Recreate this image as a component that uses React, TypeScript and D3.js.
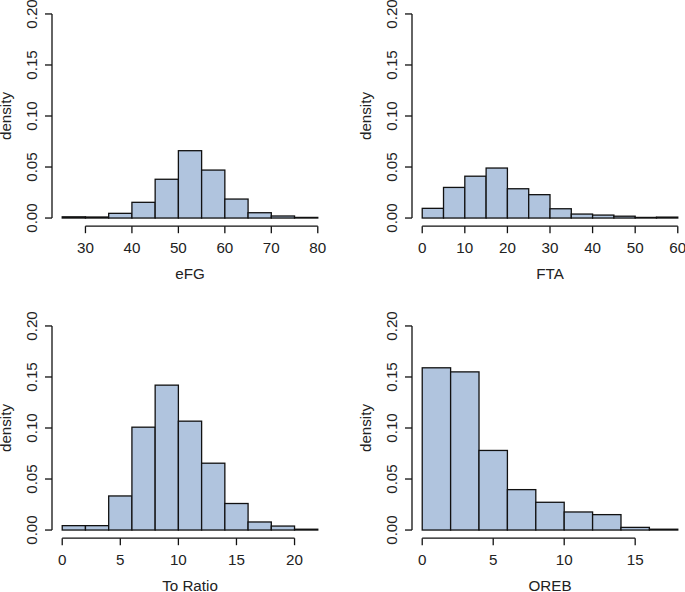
import * as d3 from "d3";

// bin edges and densities
const efgBreaks = [25, 30, 35, 40, 45, 50, 55, 60, 65, 70, 75, 80];
const efgDensity = [0.0012, 0.001, 0.0046, 0.0154, 0.038, 0.066, 0.047, 0.0186, 0.0052, 0.002, 0.0006];
const efgTicks = [30, 40, 50, 60, 70, 80];

const ftaBreaks = [0, 5, 10, 15, 20, 25, 30, 35, 40, 45, 50, 55, 60];
const ftaDensity = [0.0095, 0.030, 0.041, 0.049, 0.0287, 0.0229, 0.0091, 0.0039, 0.0029, 0.0018, 0.0006, 0.0009];
const ftaTicks = [0, 10, 20, 30, 40, 50, 60];

const toBreaks = [0, 2, 4, 6, 8, 10, 12, 14, 16, 18, 20, 22];
const toDensity = [0.0043, 0.0043, 0.0334, 0.1008, 0.142, 0.1067, 0.0655, 0.026, 0.0079, 0.0039, 0.0008];
const toTicks = [0, 5, 10, 15, 20];

const orebBreaks = [0, 2, 4, 6, 8, 10, 12, 14, 16, 18];
const orebDensity = [0.159, 0.155, 0.078, 0.0396, 0.0272, 0.0177, 0.0151, 0.0026, 0.0008];
const orebTicks = [0, 5, 10, 15];

const yTicks = [0, 0.05, 0.1, 0.15, 0.2];

const W = 685;
const H = 592;
const plotW = 276;
const plotH = 220.4;
const font = "Liberation Sans, Arial, sans-serif";
const fs = 15.2;

function Hist({ ox, oy, breaks, density, ticks, label }) {
  const lo = breaks[0];
  const hi = breaks[breaks.length - 1];
  const pad = (hi - lo) * 0.04;
  const x = d3.scaleLinear().domain([lo - pad, hi + pad]).range([0, plotW]);
  const y = d3.scaleLinear().domain([-0.008, 0.208]).range([plotH, 0]);
  const left = ox + 52;
  const top = oy + 5.8;
  return (
    <g transform={`translate(${left},${top})`}>
      {density.map((d, i) => (
        <rect
          key={i}
          x={x(breaks[i])}
          y={y(d)}
          width={x(breaks[i + 1]) - x(breaks[i])}
          height={y(0) - y(d)}
          fill="#B0C4DE"
          stroke="#111"
          strokeWidth={1.3}
        />
      ))}
      {/* x axis */}
      <line x1={x(ticks[0])} x2={x(ticks[ticks.length - 1])} y1={plotH} y2={plotH} stroke="#111" strokeWidth={1.3} />
      {ticks.map((t) => (
        <g key={t}>
          <line x1={x(t)} x2={x(t)} y1={plotH} y2={plotH + 7} stroke="#111" strokeWidth={1.3} />
          <text x={x(t)} y={plotH + 27} textAnchor="middle" fontSize={fs} fontFamily={font} fill="#222">
            {t}
          </text>
        </g>
      ))}
      {/* y axis */}
      <line x1={0} x2={0} y1={y(0)} y2={y(0.2)} stroke="#111" strokeWidth={1.3} />
      {yTicks.map((t) => (
        <g key={t}>
          <line x1={-7} x2={0} y1={y(t)} y2={y(t)} stroke="#111" strokeWidth={1.3} />
          <text
            transform={`translate(-15.5,${y(t)}) rotate(-90)`}
            textAnchor="middle"
            fontSize={fs}
            fontFamily={font}
            fill="#222"
          >
            {t.toFixed(2)}
          </text>
        </g>
      ))}
      <text x={plotW / 2} y={plotH + 53} textAnchor="middle" fontSize={fs} fontFamily={font} fill="#222">
        {label}
      </text>
      <text
        transform={`translate(-41,${plotH / 2}) rotate(-90)`}
        textAnchor="middle"
        fontSize={fs}
        fontFamily={font}
        fill="#222"
      >
        density
      </text>
    </g>
  );
}

export default function App() {
  return (
    <svg width={W} height={H} style={{ position: "absolute", left: 0, top: 0, background: "#fff" }}>
      <rect width={W} height={H} fill="#fff" />
      <Hist ox={0} oy={0} breaks={efgBreaks} density={efgDensity} ticks={efgTicks} label="eFG" />
      <Hist ox={360} oy={0} breaks={ftaBreaks} density={ftaDensity} ticks={ftaTicks} label="FTA" />
      <Hist ox={0} oy={312} breaks={toBreaks} density={toDensity} ticks={toTicks} label="To Ratio" />
      <Hist ox={360} oy={312} breaks={orebBreaks} density={orebDensity} ticks={orebTicks} label="OREB" />
    </svg>
  );
}
